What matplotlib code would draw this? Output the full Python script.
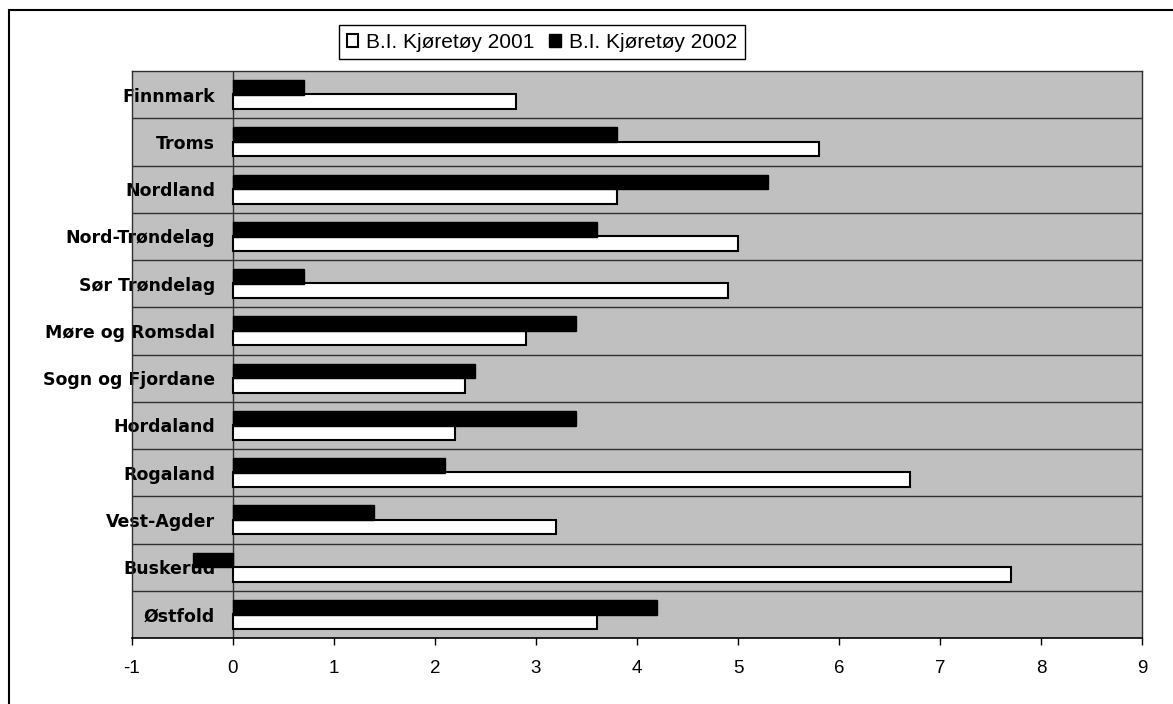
import numpy as np
import matplotlib.pyplot as plt
from matplotlib.patches import Rectangle

# fylker, nederst til øverst
fylker = ["Østfold", "Buskerud", "Vest-Agder", "Rogaland", "Hordaland",
          "Sogn og Fjordane", "Møre og Romsdal", "Sør Trøndelag",
          "Nord-Trøndelag", "Nordland", "Troms", "Finnmark"]
kj_2001 = [3.6, 7.7, 3.2, 6.7, 2.2, 2.3, 2.9, 4.9, 5.0, 3.8, 5.8, 2.8]
kj_2002 = [4.2, -0.4, 1.4, 2.1, 3.4, 2.4, 3.4, 0.7, 3.6, 5.3, 3.8, 0.7]
xticks = [-1, 0, 1, 2, 3, 4, 5, 6, 7, 8, 9]

fig = plt.figure(figsize=(11.73, 7.04), dpi=100)
ax = fig.add_axes([132/1173, 1-638/704, 1010/1173, 567/704])
ax.set_facecolor("#c0c0c0")

y = np.arange(len(fylker))
h = 0.31
ax.barh(y - 0.15, kj_2001, height=h, color="white", edgecolor="black",
        linewidth=1.5, zorder=3, label="B.I. Kjøretøy 2001")
ax.barh(y + 0.15, kj_2002, height=h, color="black", edgecolor="black",
        linewidth=1, zorder=3, label="B.I. Kjøretøy 2002")

# skillelinjer mellom kategoriene
for b in np.arange(0.5, len(fylker) - 0.5, 1):
    ax.axhline(b, color="#303030", lw=1, zorder=2)
ax.axvline(0, color="#303030", lw=1, zorder=2)

ax.set_xlim(-1, 9)
ax.set_ylim(-0.5, len(fylker) - 0.5)
ax.set_xticks(xticks)
ax.set_xticklabels([str(t) for t in xticks], fontsize=13.5, family="Liberation Sans")
ax.tick_params(axis="x", direction="out", length=5, width=1, pad=11)

ax.set_yticks(y)
ax.set_yticklabels(fylker, fontsize=12.5, fontweight="bold", family="DejaVu Sans")
ax.tick_params(axis="y", length=0, pad=-60)

for s in ["left", "top", "right"]:
    ax.spines[s].set_color("#303030")
    ax.spines[s].set_linewidth(1)
ax.spines["bottom"].set_color("black")
ax.spines["bottom"].set_linewidth(1.2)

fig.legend(loc="upper center", bbox_to_anchor=(542/1173, 1-15/704), ncol=2,
           prop={"family": "Liberation Sans", "size": 15}, frameon=True,
           fancybox=False, edgecolor="black", framealpha=1,
           handlelength=0.55, handleheight=0.55, handletextpad=0.4,
           columnspacing=0.7, borderpad=0.35)

# ramme rundt hele diagrammet
fig.patches.append(Rectangle((9/1173, -0.1), 1.2, 1.1 - 10/704, transform=fig.transFigure,
                             fill=False, edgecolor="black", lw=1.5))

fig.savefig("out.png", dpi=100)
